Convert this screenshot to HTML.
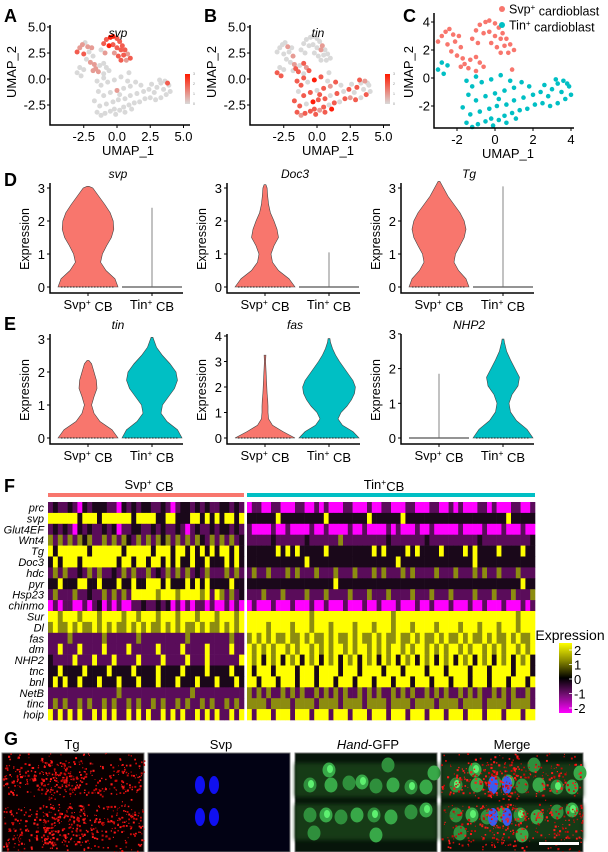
<!DOCTYPE html>
<html><head><meta charset="utf-8">
<style>
html,body{margin:0;padding:0;background:#fff;}
svg{display:block;font-family:"Liberation Sans",sans-serif;}
</style></head>
<body>
<svg id="fig" width="608" height="852" viewBox="0 0 608 852" xmlns="http://www.w3.org/2000/svg">
<defs>
<filter id="blur2"><feGaussianBlur stdDeviation="2"/></filter>
<linearGradient id="featGrad" x1="0" y1="1" x2="0" y2="0"><stop offset="0" stop-color="#d9d9d9"/><stop offset="1" stop-color="#ff1a00"/></linearGradient>
<linearGradient id="heatGrad" x1="0" y1="1" x2="0" y2="0">
<stop offset="0" stop-color="#ff00ff"/><stop offset="0.25" stop-color="#7a107a"/><stop offset="0.5" stop-color="#000000"/><stop offset="0.75" stop-color="#8a8a00"/><stop offset="1" stop-color="#ffff00"/></linearGradient>
</defs>
</svg>
<script>
// ---------- UMAP data ----------
const umX=[-3.0,-2.8,-2.6,-2.4,-2.2,-2.5,-2.1,-1.9,-1.8,-2.3,-2.0,-1.7,-1.0,-0.8,-0.5,-0.3,0.0,0.2,0.4,0.6,0.8,1.0,-0.6,-0.3,0.0,0.3,0.5,0.7,-0.2,0.1,0.3,-1.2,-0.9,-1.6,-1.3,-1.0,-0.8,-1.4,-1.0,-0.6,-1.8,0.9,
-3.0,-2.8,-2.7,-2.5,-1.5,-1.2,-0.9,-0.5,-0.2,0.2,0.5,0.9,1.3,1.7,2.1,2.5,-1.3,-0.8,-0.3,0.1,0.6,1.0,1.5,2.0,-1.0,-0.5,0,0.5,1.0,-1.2,-0.7,-0.2,0.3,0.8,-1.5,-1.0,-1.4,-1.7,0.2,1.4,1.8,2.4,2.8,3.0,3.3,3.6,3.9,4.0,3.7,3.3,2.9,3.5,3.2,2.6,3.8,0.6,1.1,-0.1];
const umY=[2.6,3.0,3.3,3.5,3.1,2.4,2.6,3.0,2.2,1.9,1.6,1.4,3.4,3.8,4.0,4.1,3.9,3.6,3.2,2.8,2.4,2.0,3.2,3.3,3.0,2.8,2.3,1.8,2.5,2.2,1.8,2.8,2.5,1.0,1.3,1.5,1.1,0.7,0.5,0.8,0.8,0.6,
0.6,1.1,0.3,0.9,-3.2,-3.5,-3.3,-3.1,-2.9,-3.0,-2.7,-2.5,-2.3,-2.2,-1.9,-1.8,-2.6,-2.4,-2.2,-2.0,-1.9,-1.6,-1.4,-1.2,-1.6,-1.3,-1.1,-0.9,-0.7,-0.6,-0.3,-0.1,0.2,-0.2,-0.2,0.1,-1.2,-2.1,-1.5,-0.3,-0.6,-1.0,-1.3,-0.8,-0.4,-0.2,-0.6,-1.2,-1.5,-1.8,-2.0,-1.0,-0.1,-0.5,-0.4,-3.2,-2.9,-3.4];
const umSvp=[2,1,1,0,1,2,0,1,0,0,1,1,2,2,3,3,2,2,2,2,1,2,3,2,2,2,2,1,1,2,2,0,1,1,0,0,0,1,0,0,1,0,
0,0,0,0,0,0,0,0,0,0,0,0,0,0,0,0,0,0,0,0,0,0,0,0,0,0,1,0,0,0,0,0,0,0,0,0,0,0,0,0,0,0,0,0,0,0,0,0,0,0,0,0,0,0,2,0,0,0];
const umTin=[0,0,0,0,1,0,0,0,1,0,0,1,0,0,0,0,0,0,1,0,0,0,0,0,0,1,0,0,0,0,0,0,0,2,0,2,1,2,0,2,0,0,
2,0,2,0,2,1,2,2,2,1,2,0,2,0,2,1,2,0,3,2,2,0,2,0,2,2,0,2,1,2,0,3,2,0,2,2,0,2,2,2,0,2,0,2,0,1,0,0,2,0,2,0,2,0,0,2,3,2];
const umGrp=[0,0,0,0,0,0,0,0,0,0,0,0,0,0,0,0,0,0,0,0,0,0,0,0,0,0,0,0,0,0,0,0,0,0,0,0,0,0,0,0,0,0,
1,1,1,1,1,1,1,1,1,1,1,1,1,1,1,1,1,1,1,1,1,1,1,1,1,1,1,1,1,1,1,1,1,1,1,1,1,1,1,1,1,1,1,1,1,1,1,1,1,1,1,1,1,1,1,1,1,1];
const umapTicksAB=[-2.5,0.0,2.5,5.0];
const umapTicksC=[-2,0,2,4];
const umapTicksCy=[-2,0,2,4];
// ---------- Violin data (half-width fraction every 0.25 expression units) ----------
const violinGenes=["svp","Doc3","Tg","tin","fas","NHP2"];
const vSvp_svp=[1,0.9,0.6,0.42,0.48,0.62,0.78,0.86,0.84,0.74,0.56,0.36,0.16];
const vSvp_Doc3=[1,0.8,0.45,0.25,0.2,0.3,0.45,0.4,0.3,0.18,0.12,0.09,0.07];
const vSvp_Tg=[1,0.9,0.65,0.5,0.55,0.7,0.84,0.9,0.84,0.7,0.5,0.3,0.15];
const vSvp_tin=[1,0.8,0.4,0.2,0.12,0.2,0.3,0.28,0.2,0.12];
const vTin_tin=[1,0.85,0.5,0.3,0.35,0.55,0.75,0.85,0.8,0.6,0.35,0.15,0.05];
const vSvp_fas=[1,0.6,0.25,0.12,0.1,0.1,0.09,0.07,0.06,0.05,0.04,0.03,0.02];
const vTin_fas=[1,0.8,0.45,0.3,0.4,0.6,0.75,0.85,0.88,0.8,0.65,0.5,0.35,0.22,0.12,0.05];
const vTin_NHP2=[1,0.8,0.45,0.25,0.2,0.3,0.5,0.55,0.4,0.25,0.12,0.05];
const violinMax=[3.05,3.1,3.2,2.35,3.25,2.85];
const lineMax=[2.4,1.05,3.05,1.85];
// ---------- Heatmap data (0=-2 magenta .. 4=+2 yellow) ----------
const heatGenes=["prc","svp","Glut4EF","Wnt4","Tg","Doc3","hdc","pyr","Hsp23","chinmo","Sur","Dl","fas","dm","NHP2","tnc","bnl","NetB","tinc","hoip"];
const heatSvp=["1211210212221102121221121012212121122121","4444442444244444424444224422244242424424","1212102121121201122112121121012112122121","3131313231131313213131323131313213131312","4244444424444442444442444244242424244242","2424442444444424424424424242242242224242","1313112131311213131131213131312131113131","2242224422422242242244424222424242222422","1311131121131313144444344434444341431312","0101100101201010011211212010101101001010","4434443444344443443444344434443444344434","3433434334343433434343343434334343343434","1111311111131111113111111111311111111311","1141114111141111411111411114111141111411","2111141114111411114111141111411141111114","2242222422224222242222422224222242222422","2424224222422242224222422242224222422242","1111111111111131111111111111131111111111","1313113131131311313113131131311313113131","4141414114141411414141141414114141411414"];
const heatTin=["011001100011001010001100010011000110001100101000110100011001","222222422222222242222222242222224222222222222222222222422222","100001001000010010000100100001010001001000001000010001000100","111112111111211111131111111112111111121111111111211111111112","222222424242222242222222224242222424222242222424222242222422","222222222222422222222222222222242222222222222224222222222222","131131113131113111311131113131113131111311131113131131113111","222222222222222222422222222222222222222222222222222222222422","111311131111311131111311131113111131113111311113111311131113","010001000100010010001000100100010001001000100010010001000101","444444444444434444444444444444344444444444444444444444443444","444434444344434443444434443444344434444344443444344434443444","343434334334343343433434334343343343433434334343343433434334","434343443434434343443434434343443434434343443434434343443434","434243424342434243424342434243424342434243424342434243424342","424442444424442444424442444424442444424442444424442444424442","442444244424442444244424442444244424442444244424442444244424","313131131313113131313113131311313131131313113131311313131131","333313333133331333313333133331333313333133331333313333133331","414441444144414441444144414441444144414441444144414441444144"];
const heatColors=["#ff00ff","#5a0c5a","#1a081a","#8c8c10","#ffff00"];
const heatLegendTicks=["2","1","0","-1","-2"];
// ---------- Microscopy nuclei ----------
const nucX=[329,388,434,310,331,349,362,376,393,411,426,310,326,341,357,374,391,411,426,314,376];
const nucY=[770,765,773,785,785,783,782,786,785,787,787,815,815,817,815,815,817,812,810,833,835];
const svpBlobX=[200,214,200,214];
const svpBlobY=[785,785,817,817];

const NS="http://www.w3.org/2000/svg";
const fig=document.getElementById('fig');
function el(tag,attrs,parent){const e=document.createElementNS(NS,tag);for(const k in attrs)e.setAttribute(k,attrs[k]);(parent||fig).appendChild(e);return e;}
function txt(s,x,y,size,opts,parent){opts=opts||{};const t=el('text',{x:x,y:y,'font-size':size,'text-anchor':opts.anchor||'middle','fill':opts.fill||'#000'},parent);if(opts.italic)t.setAttribute('font-style','italic');if(opts.bold)t.setAttribute('font-weight','bold');if(opts.rot)t.setAttribute('transform','rotate(-90 '+x+' '+y+')');t.textContent=s;return t;}
function sup(t,base,supText,rest){t.textContent='';const a=document.createElementNS(NS,'tspan');a.textContent=base;t.appendChild(a);const b=document.createElementNS(NS,'tspan');b.setAttribute('font-size','0.65em');b.setAttribute('dy','-0.45em');b.textContent=supText;t.appendChild(b);const c=document.createElementNS(NS,'tspan');c.setAttribute('dy','0.45em');c.textContent=rest;t.appendChild(c);}

// panel letters
[["A",4,22],["B",204,22],["C",403,22],["D",4,186],["E",4,330],["F",4,492],["G",4,745]].forEach(p=>{
 const t=txt(p[0],p[1],p[2],18,{anchor:'start',bold:true});
 
 
});

// ---------- UMAP panels A, B ----------
function featColor(v){const f=v/3;const r=Math.round(217+(255-217)*f),g=Math.round(217-(217-30)*f),b=Math.round(217-(217-10)*f);return 'rgb('+r+','+g+','+b+')';}
function umapAB(ox,gene,vals,name){
 const g=el('g',{});
 
 
 const xs=v=>ox+117+v*13.3, ys=v=>79-v*10.4;
 const idx=vals.map((v,i)=>i).sort((a,b)=>vals[a]-vals[b]);
 idx.forEach(i=>{const c=el('circle',{cx:xs(umX[i]),cy:ys(umY[i]),r:2.5,fill:featColor(vals[i])},g);
  
  });
 const ax=el('path',{d:'M'+(ox+50)+' 25 V125 H'+(ox+190),stroke:'#000','stroke-width':1.5,fill:'none'},g);
 
 
 umapTicksAB.forEach(t=>{el('line',{x1:xs(t),x2:xs(t),y1:125,y2:128,stroke:'#000'},g);
  const a=txt(t.toFixed(1),xs(t),141,13,{},g);
  
  
  el('line',{x1:ox+47,x2:ox+50,y1:ys(t),y2:ys(t),stroke:'#000'},g);
  const b=txt(t.toFixed(1),ox+46,ys(t)+4.5,13,{anchor:'end'},g);
  
  });
 const xt=txt('UMAP_1',ox+128,155,13,{},g);
 
 
 const yt=txt('UMAP_2',ox+16,72,13,{rot:true},g);
 
 
 const tt=txt(gene,ox+118,37,12,{italic:true},g);
 
 
 const cb=el('rect',{x:ox+185,y:74,width:5,height:30,fill:'url(#featGrad)'},g);
 
 
 ['0','1','2','3'].forEach((s,i)=>{txt(s,ox+193,105-i*10,3.5,{anchor:'start',fill:'#888'},g);});
}
umapAB(0,'svp',umSvp,'umap-svp-panel');
umapAB(200,'tin',umTin,'umap-tin-panel');

// ---------- UMAP C ----------
(function(){
 const g=el('g',{});
 
 
 const xs=v=>495+v*19, ys=v=>78-v*14;
 const cols=['#f8766d','#00bfc4'];
 umX.forEach((x,i)=>{const c=el('circle',{cx:xs(x),cy:ys(umY[i]),r:2.3,fill:cols[umGrp[i]]},g);
  
  });
 const ax=el('path',{d:'M434 13 V128 H574',stroke:'#000','stroke-width':1.5,fill:'none'},g);
 
 
 umapTicksC.forEach(t=>{el('line',{x1:xs(t),x2:xs(t),y1:128,y2:131,stroke:'#000'},g);
  const a=txt(String(t),xs(t),144,13,{},g);
  
  });
 umapTicksCy.forEach(t=>{el('line',{x1:431,x2:434,y1:ys(t),y2:ys(t),stroke:'#000'},g);
  const b=txt(String(t),430,ys(t)+4.5,13,{anchor:'end'},g);
  
  });
 const xt=txt('UMAP_1',508,158,13,{},g);
 
 
 const yt=txt('UMAP_2',413,72,13,{rot:true},g);
 
 
 [['Svp','#f8766d',9],['Tin','#00bfc4',25]].forEach(l=>{
  const lg=el('g',{},g);
  
  
  el('circle',{cx:502,cy:l[2],r:3,fill:l[1]},lg);
  const t=txt('',509,l[2]+4.5,12.5,{anchor:'start'},lg);
  sup(t,l[0],'+',' cardioblast');});
})();

// ---------- Violins ----------
function violinPath(cx,w,maxV,ys,half){
 let L=[],R=[];
 for(let i=0;i<w.length;i++){const v=Math.min(i*0.25,maxV);L.push([cx-w[i]*half,ys(v)]);R.push([cx+w[i]*half,ys(v)]);}
 L.push([cx-0.03*half,ys(maxV)]);R.push([cx+0.03*half,ys(maxV)]);
 let d='M'+L[0][0]+' '+L[0][1];
 for(let i=1;i<L.length;i++)d+=' L'+L[i][0]+' '+L[i][1];
 for(let i=R.length-1;i>=0;i--)d+=' L'+R[i][0]+' '+R[i][1];
 return d+' Z';
}
function violinPanel(ox,zeroY,unit,ticks,gene,left,right,name){
 const g=el('g',{});
 
 
 const ax0=50+ox, ys=v=>zeroY-v*unit;
 const cS=ax0+38, cT=ax0+102, half=30;
 [[left,cS,'#f8766d','svp'],[right,cT,'#00bfc4','tin']].forEach(s=>{
  const spec=s[0];
  if(spec.line!==undefined){
   const l1=el('line',{x1:s[1]-half,x2:s[1]+half,y1:zeroY,y2:zeroY,stroke:'#555','stroke-width':1.2},g);
   
   
   const l2=el('line',{x1:s[1],x2:s[1],y1:zeroY,y2:ys(spec.line),stroke:'#666','stroke-width':0.8},g);
   
   
  } else {
   const p=el('path',{d:violinPath(s[1],spec.w,spec.max,ys,half),fill:s[2],stroke:'#444','stroke-width':0.6},g);
   
   
   el('line',{x1:s[1]-half+3,x2:s[1]+half-3,y1:zeroY,y2:zeroY,stroke:'#222','stroke-width':1,'stroke-dasharray':'1.5 1.5'},g);
  }
 });
 const ax=el('path',{d:'M'+ax0+' '+(zeroY-104)+' V'+(zeroY+6)+' H'+(ax0+133),stroke:'#000','stroke-width':1.5,fill:'none'},g);
 
 
 ticks.forEach(t=>{el('line',{x1:ax0-3,x2:ax0,y1:ys(t),y2:ys(t),stroke:'#000'},g);
  const a=txt(String(t),ax0-5,ys(t)+5,13,{anchor:'end'},g);
  
  });
 [[cS,'Svp'],[cT,'Tin']].forEach(c=>{el('line',{x1:c[0],x2:c[0],y1:zeroY+6,y2:zeroY+9,stroke:'#000'},g);
  const t=txt('',c[0],zeroY+22,13,{},g);
  sup(t,c[1],'+',' CB');
  
  });
 const yt=txt('Expression',ax0-21,zeroY-48,12.5,{rot:true},g);
 
 
 const tt=txt(gene,ax0+68,zeroY-109,12,{italic:true},g);
 
 
}
violinPanel(0,287,33,[0,1,2,3],violinGenes[0],{w:vSvp_svp,max:violinMax[0]},{line:lineMax[0]},'violin-svp-panel');
violinPanel(177,287,33,[0,1,2,3],violinGenes[1],{w:vSvp_Doc3,max:violinMax[1]},{line:lineMax[1]},'violin-doc3-panel');
violinPanel(351,287,33,[0,1,2,3],violinGenes[2],{w:vSvp_Tg,max:violinMax[2]},{line:lineMax[2]},'violin-tg-panel');
violinPanel(0,438,33,[0,1,2,3],violinGenes[3],{w:vSvp_tin,max:violinMax[3]},{w:vTin_tin,max:3.05},'violin-tin-panel');
violinPanel(177,438,25.5,[0,1,2,3,4],violinGenes[4],{w:vSvp_fas,max:violinMax[4]},{w:vTin_fas,max:3.9},'violin-fas-panel');
violinPanel(351,438,34.7,[0,1,2,3],violinGenes[5],{line:lineMax[3]},{w:vTin_NHP2,max:violinMax[5]},'violin-nhp2-panel');

// ---------- Heatmap ----------
(function(){
 const g=el('g',{});
 
 
 const top=502,rowH=10.9,sx0=48,sx1=244,tx0=247,tx1=535;
 const b1=el('rect',{x:sx0,y:493,width:sx1-sx0,height:4,fill:'#f8766d'},g);
 
 
 const b2=el('rect',{x:tx0,y:493,width:tx1-tx0,height:4,fill:'#00bfc4'},g);
 
 
 const h1=txt('',149,489,13,{},g);sup(h1,'Svp','+',' CB');
 
 
 const h2=txt('',384,489,13,{},g);sup(h2,'Tin','+','CB');
 
 
 heatGenes.forEach((gn,r)=>{
  const y=top+r*rowH;
  [[heatSvp[r],sx0,sx1],[heatTin[r],tx0,tx1]].forEach(blk=>{
   const s=blk[0],cw=(blk[2]-blk[1])/s.length;
   for(let i=0;i<s.length;i++){
    const c=el('rect',{x:blk[1]+i*cw,y:y,width:cw+0.3,height:rowH+0.3,fill:heatColors[+s[i]]},g);
    
    
   }
  });
  const lab=txt(gn,44,y+rowH/2+4,11,{anchor:'end',italic:true},g);
  
  
 });
 const lt=txt('Expression',570,640,14,{},g);
 
 
 const cb=el('rect',{x:559,y:643,width:13,height:70,fill:'url(#heatGrad)'},g);
 
 
 heatLegendTicks.forEach((s,i)=>{const y=650+i*14.5;
  el('line',{x1:569,x2:572,y1:y,y2:y,stroke:'#fff','stroke-width':0.8},g);
  const t=txt(s,574,y+5,13,{anchor:'start'},g);
  
  });
})();

// ---------- Microscopy panel G ----------
let seed=12345;
function rnd(){seed=(seed*1103515245+12345)%2147483648;return seed/2147483648;}
function speckle(g,x0,y0,w,h,n,cx){
 // dense near the two cell bands and around Svp cells
 let placed=0,tries=0;
 while(placed<n&&tries<n*6){tries++;
  const x=x0+rnd()*w,y=y0+rnd()*h;
  let p=0.25;
  if((y>y0+9&&y<y0+40)||(y>y0+52&&y<y0+88))p=0.6;
  if(Math.abs(y-y0-47)<4)p=0.08;
  const dx=(x-cx)/20;
  if(Math.abs(dx)<1&&((y>y0+8&&y<y0+45)||(y>y0+50&&y<y0+92)))p=1;
  if(rnd()<p){const s=0.8+rnd()*1.4;
   el('rect',{x:x,y:y,width:s,height:s,fill:rnd()<0.5?'#ff1a1a':'#c80808'},g);placed++;}
 }
}
(function(){
 const imgs=[[2,'Tg',72],[148,'Svp',221],[295,'Hand-GFP',368],[441,'Merge',512]];
 imgs.forEach((m,k)=>{
  const g=el('g',{});
  
  
  const x0=m[0],w=142,y0=753,h=99;
  el('rect',{x:x0,y:y0,width:w,height:h,fill:k===1?'#020214':(k===0?'#080000':'#07150a'),stroke:'#777','stroke-width':1},g);
  if(k>=2){
   el('rect',{x:x0,y:y0+10,width:w,height:34,fill:'#143a18',filter:'url(#blur2)'},g);
   el('rect',{x:x0,y:y0+51,width:w,height:36,fill:'#143a18',filter:'url(#blur2)'},g);
   const off=k===3?146:0;
   nucX.forEach((nx,i)=>{
    const n=el('ellipse',{cx:nx+off,cy:nucY[i],rx:6.5,ry:7.5,fill:i%2?'#2f8f3c':'#38a848'},g);
    
    
    if(i%3===0)el('ellipse',{cx:nx+off+1,cy:nucY[i]-1,rx:3,ry:4,fill:'#5ef070'},g);
   });
  }
  if(k===1||k===3){
   const off=k===3?293:0;
   svpBlobX.forEach((bx,i)=>{const b=el('ellipse',{cx:bx+off,cy:svpBlobY[i],rx:5,ry:9,fill:k===3?'#3a5cf0':'#1010f0'},g);
    
    });
  }
  if(k===0){speckle(g,x0,y0,w,h,900,62);}
  if(k===3){speckle(g,x0,y0,w,h,650,502);
   const sb=el('rect',{x:539,y:842,width:40,height:3,fill:'#fff'},g);
   
   }
  const t=txt('',m[2],749,13,{},g);
  if(k===2){const a=document.createElementNS(NS,'tspan');a.setAttribute('font-style','italic');a.textContent='Hand';t.appendChild(a);const b=document.createElementNS(NS,'tspan');b.textContent='-GFP';t.appendChild(b);}
  else t.textContent=m[1];
  
  
 });
})();
</script>
</body></html>
